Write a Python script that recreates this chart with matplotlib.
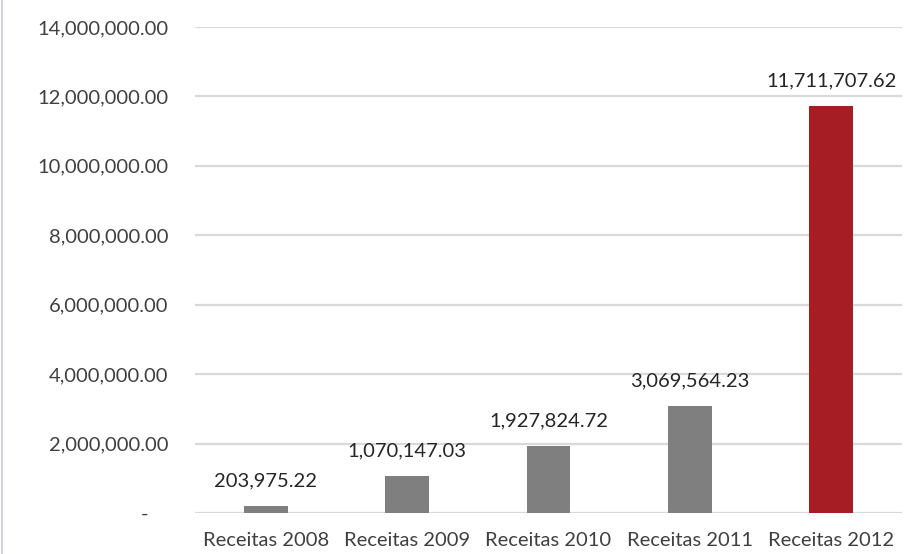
import matplotlib
matplotlib.use("Agg")
import matplotlib.pyplot as plt
from matplotlib.lines import Line2D

categories = ["Receitas 2008", "Receitas 2009", "Receitas 2010", "Receitas 2011", "Receitas 2012"]
values = [203975.22, 1070147.03, 1927824.72, 3069564.23, 11711707.62]
colors = ["#7F7F7F", "#7F7F7F", "#7F7F7F", "#7F7F7F", "#A61E24"]
yticks = [0, 2000000, 4000000, 6000000, 8000000, 10000000, 12000000, 14000000]

plt.rcParams['font.family'] = ['Lato', 'DejaVu Sans']
fig = plt.figure(figsize=(9.07, 5.54), dpi=100)
ax = fig.add_axes([195/907, 1-513/554, (902-195)/907, (513-27)/554])

x = list(range(len(categories)))
bars = ax.bar(x, values, width=0.31, color=colors, zorder=3)
ax.set_xlim(-0.5, len(categories)-0.5)
ax.set_ylim(0, 14000000)
ax.set_yticks(yticks)
ax.set_yticklabels(["-    "] + [f"{v:,.2f}" for v in yticks[1:]])
ax.set_xticks(x)
ax.set_xticklabels(categories)
ax.grid(axis='y', color='#D9D9D9', linewidth=1.6, zorder=0)
for s in ax.spines.values():
    s.set_visible(False)
ax.tick_params(axis='both', length=0, labelsize=14.5, labelcolor='#404040')
ax.tick_params(axis='y', pad=19)
ax.tick_params(axis='x', pad=14)

for xi, v in zip(x, values):
    ax.annotate(f"{v:,.2f}", (xi, v), xytext=(0, 12), textcoords='offset points',
                ha='center', va='bottom', fontsize=14.5, color='#262626')

fig.add_artist(Line2D([0.002, 0.002], [0, 1], color='#C8C8DC', linewidth=1.2, transform=fig.transFigure))
fig.savefig("out.png", dpi=100)
